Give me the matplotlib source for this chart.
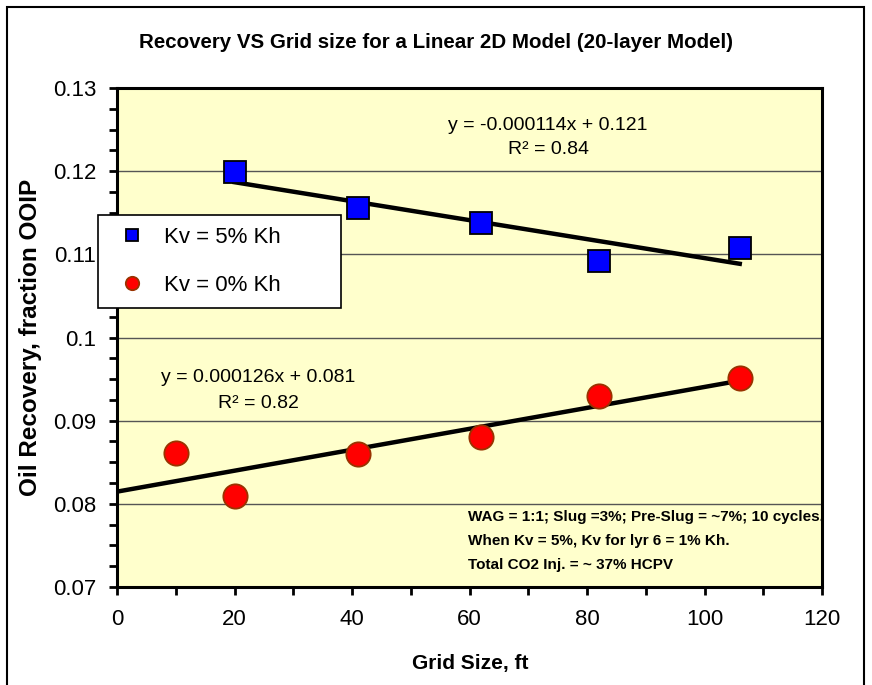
import numpy as np
import matplotlib
matplotlib.use("Agg")
import matplotlib.pyplot as plt
from matplotlib.patches import Rectangle

plt.rcParams['font.family'] = ['Liberation Sans', 'DejaVu Sans']

# Grid-size sensitivity results
grid_kv5 = [20, 41, 62, 82, 106]
rec_kv5 = [0.1199, 0.1156, 0.1138, 0.1092, 0.1108]
grid_kv0 = [10, 20, 41, 62, 82, 106]
rec_kv0 = [0.0861, 0.0810, 0.0860, 0.0880, 0.0930, 0.0951]

label_kv5 = "Kv = 5% Kh"
label_kv0 = "Kv = 0% Kh"
title = "Recovery VS Grid size for a Linear 2D Model (20-layer Model)"
xlabel = "Grid Size, ft"
ylabel = "Oil Recovery, fraction OOIP"
notes = ["WAG = 1:1; Slug =3%; Pre-Slug = ~7%; 10 cycles.",
         "When Kv = 5%, Kv for lyr 6 = 1% Kh.",
         "Total CO2 Inj. = ~ 37% HCPV"]
x_ticks = [0, 20, 40, 60, 80, 100, 120]
y_ticks = [0.07, 0.08, 0.09, 0.1, 0.11, 0.12, 0.13]
y_tick_labels = ["0.07", "0.08", "0.09", "0.1", "0.11", "0.12", "0.13"]

W, H = 872, 685
fig = plt.figure(figsize=(W / 100, H / 100), dpi=100)
fig.patch.set_facecolor("white")
fig.patches.append(Rectangle((7 / W, -0.02), 857 / W, (H - 7) / H + 0.02,
                             transform=fig.transFigure, fill=False,
                             edgecolor="black", linewidth=1.5))


def px(x, y):
    """Pixel position (from top-left) to figure fraction."""
    return x / W, 1 - y / H


ax = fig.add_axes([117 / W, 1 - 587 / H, (822 - 117) / W, (587 - 88) / H])
ax.set_facecolor("#FFFFCC")
ax.set_xlim(0, 120)
ax.set_ylim(0.07, 0.13)
ax.set_xticks(x_ticks)
ax.set_xticks(np.arange(0, 121, 10), minor=True)
ax.set_yticks(y_ticks)
ax.set_yticklabels(y_tick_labels)
ax.set_yticks(np.arange(0.07, 0.1301, 0.0025), minor=True)
for sp in ax.spines.values():
    sp.set_linewidth(2.2)
ax.tick_params(which="both", direction="out", length=6, width=2, labelsize=16)
ax.tick_params(axis="x", pad=10)
ax.tick_params(axis="y", pad=9)
ax.yaxis.grid(True, which="major", color="#555555", linewidth=1)
ax.set_axisbelow(True)


def linfit(x, y):
    x = np.asarray(x, float)
    y = np.asarray(y, float)
    m, b = np.polyfit(x, y, 1)
    r2 = 1 - np.sum((y - (m * x + b)) ** 2) / np.sum((y - y.mean()) ** 2)
    return m, b, r2


m5, b5, r5 = linfit(grid_kv5, rec_kv5)
m0, b0, r0 = linfit(grid_kv0, rec_kv0)

xs5 = np.array([min(grid_kv5), max(grid_kv5)])
ax.plot(xs5, m5 * xs5 + b5, color="black", linewidth=3.2, zorder=3)
xs0 = np.array([0, max(grid_kv0)])
ax.plot(xs0, m0 * xs0 + b0, color="black", linewidth=3.2, zorder=3)

ax.plot(grid_kv5, rec_kv5, linestyle="none", marker="s", markersize=16.5,
        markerfacecolor="#0000FF", markeredgecolor="black", markeredgewidth=1.3,
        label=label_kv5, zorder=4)
ax.plot(grid_kv0, rec_kv0, linestyle="none", marker="o", markersize=17.5,
        markerfacecolor="#FF0000", markeredgecolor="#993300", markeredgewidth=1.3,
        label=label_kv0, zorder=4)


def eq_text(m, b):
    sign = "+" if b >= 0 else "-"
    return f"y = {m:.6f}x {sign} {abs(b):.3f}"


fig.text(*px(548, 125), eq_text(m5, b5), fontsize=14, ha="center", va="center")
fig.text(*px(548, 150), f"R² = {r5:.2f}", fontsize=14, ha="center", va="center")
fig.text(*px(258, 378), eq_text(m0, b0), fontsize=14, ha="center", va="center")
fig.text(*px(258, 403), f"R² = {r0:.2f}", fontsize=14, ha="center", va="center")

for i, line in enumerate(notes):
    fig.text(*px(468, 517 + 24 * i), line, fontsize=11,
             fontweight="bold", ha="left", va="center")

fig.text(*px(436, 42), title, fontsize=14.8, fontweight="bold",
         ha="center", va="center")
fig.text(*px(470, 664), xlabel, fontsize=15, fontweight="bold",
         ha="center", va="center")
fig.text(*px(30, 337), ylabel, fontsize=17.5, fontweight="bold",
         ha="center", va="center", rotation=90)

leg = ax.legend(loc="upper left",
                bbox_to_anchor=((98 - 117) / (822 - 117), (587 - 215) / (587 - 88),
                                (341 - 98) / (822 - 117), 0.0),
                mode="expand", fontsize=16, markerscale=0.55, frameon=True,
                fancybox=False, borderpad=0.55, labelspacing=1.2,
                handlelength=2.0, handletextpad=0.4, borderaxespad=0)
leg.get_frame().set_edgecolor("black")
leg.get_frame().set_linewidth(1.2)
leg.get_frame().set_facecolor("white")
leg.get_frame().set_alpha(1)
leg.set_zorder(5)

fig.savefig("out.png", dpi=100)
